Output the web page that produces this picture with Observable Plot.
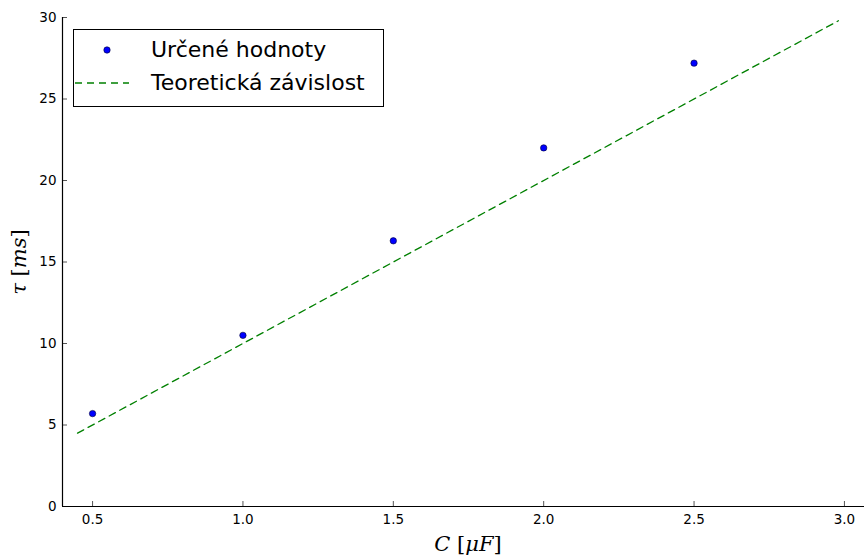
<!DOCTYPE html>
<html><head><meta charset="utf-8">
<script src="https://cdn.jsdelivr.net/npm/d3@7"></script>
<script src="https://cdn.jsdelivr.net/npm/@observablehq/plot@0.6"></script>
<style>
body{margin:0;background:#fff;}
#wrap{position:relative;width:864px;height:555px;font-family:"DejaVu Sans",sans-serif;}
#legend{position:absolute;left:73px;top:29px;width:309px;height:76px;border:1px solid #000;background:#fff;box-sizing:content-box;}
#legend .row{position:absolute;left:0;font-size:22px;line-height:26px;}
#legend .lbl{position:absolute;left:77px;white-space:nowrap;}
</style></head>
<body><div id="wrap"></div>
<script>
const capacitance = [0.5, 1.0, 1.5, 2.0, 2.5];
const tauMeasured = [5.7, 10.5, 16.3, 22.0, 27.2];
const theoryC = [0.45, 2.98];
const theoryTau = [4.5, 29.8];
const xTicks = [0.5, 1.0, 1.5, 2.0, 2.5, 3.0];
const yTicks = [0, 5, 10, 15, 20, 25, 30];
const seriesNames = ["Určené hodnoty", "Teoretická závislost"];

const pts = capacitance.map((c, i) => ({c, t: tauMeasured[i]}));
const line = theoryC.map((c, i) => ({c, t: theoryTau[i]}));

const chart = Plot.plot({
  width: 864, height: 555,
  marginLeft: 62, marginTop: 17, marginBottom: 49, marginRight: 0,
  style: {fontFamily: "DejaVu Sans, sans-serif", fontSize: "13px", color: "#000", background: "#fff"},
  x: {domain: [0.4, 3.1], range: [62, 874]},
  y: {domain: [0, 30]},
  marks: [
    Plot.axisX({ticks: xTicks, tickSize: 0, tickPadding: 8, tickFormat: d3.format(".1f"), label: null, fontSize: 13.5}),
    Plot.axisX({ticks: xTicks, tickSize: -5, tickFormat: () => "", label: null, stroke: "#555"}),
    Plot.axisY({ticks: yTicks, tickSize: 0, tickPadding: 6, label: null, fontSize: 13.5}),
    Plot.axisY({ticks: yTicks, tickSize: -5, tickFormat: () => "", label: null, stroke: "#555"}),
    Plot.ruleX([0.4], {stroke: "#000", strokeWidth: 1.2}),
    Plot.ruleY([0], {stroke: "#000", strokeWidth: 1.2}),
    Plot.line(line, {x: "c", y: "t", stroke: "#008000", strokeWidth: 1.3, strokeDasharray: "7,5"}),
    Plot.dot(pts, {x: "c", y: "t", r: 3.2, fill: "#0000ff", stroke: "#000033", strokeWidth: 0.6})
  ]
});
const wrap = document.getElementById("wrap");
wrap.appendChild(chart);

const svg = d3.select(chart);
svg.append("text").attr("x", 468).attr("y", 551).attr("text-anchor", "middle")
  .attr("font-family", "DejaVu Serif, serif").attr("font-size", 21)
  .html('<tspan font-style="italic">C</tspan> [<tspan font-style="italic">μF</tspan>]');
svg.append("text").attr("transform", "translate(26,262) rotate(-90)").attr("text-anchor", "middle")
  .attr("font-family", "DejaVu Serif, serif").attr("font-size", 21)
  .html('<tspan font-style="italic">τ</tspan> [<tspan font-style="italic">ms</tspan>]');

const leg = document.createElement("div");
leg.id = "legend";
leg.innerHTML = `
<div class="row" style="top:7px;width:100%"><svg style="position:absolute;left:25px;top:7px" width="16" height="12"><circle cx="8" cy="6" r="3.2" fill="#0000ff" stroke="#000033" stroke-width="0.6"/></svg><span class="lbl">${seriesNames[0]}</span></div>
<div class="row" style="top:40px;width:100%"><svg style="position:absolute;left:1px;top:7px" width="56" height="12"><line x1="0" y1="6" x2="54" y2="6" stroke="#008000" stroke-width="1.3" stroke-dasharray="7,5"/></svg><span class="lbl">${seriesNames[1]}</span></div>`;
wrap.appendChild(leg);
</script></body></html>
